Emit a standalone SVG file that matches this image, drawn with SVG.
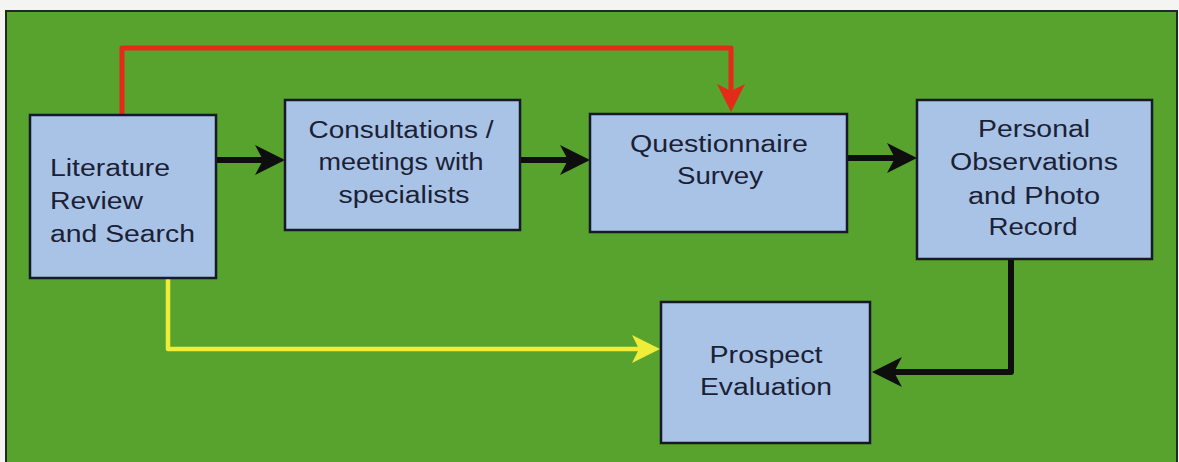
<svg xmlns="http://www.w3.org/2000/svg" width="1179" height="462" viewBox="0 0 1179 462">
  <style>
    .box { fill: #a9c3e6; stroke: #15192a; stroke-width: 2.5; }
    .lbl { font-family: "Liberation Sans", Arial, sans-serif; font-size: 23px; fill: #1b2135; }
    .mid { text-anchor: middle; }
    .blk { fill: none; stroke: #0e0e0e; stroke-width: 6; stroke-linejoin: round; }
    .red { fill: none; stroke: #e42a18; stroke-width: 5; stroke-linejoin: round; }
    .yel { fill: none; stroke: #eeee3a; stroke-width: 4.5; stroke-linejoin: round; }
  </style>
  <defs>
    <marker id="ahB" markerUnits="userSpaceOnUse" markerWidth="32" markerHeight="32" refX="8" refY="15" orient="auto" viewBox="0 0 32 32">
      <path d="M0,0 L30,15 L0,30 L8,15 Z" fill="#0e0e0e"/>
    </marker>
    <marker id="ahR" markerUnits="userSpaceOnUse" markerWidth="30" markerHeight="30" refX="7" refY="14" orient="auto" viewBox="0 0 30 30">
      <path d="M0,0 L28,14 L0,28 L7,14 Z" fill="#e42a18"/>
    </marker>
    <marker id="ahY" markerUnits="userSpaceOnUse" markerWidth="30" markerHeight="30" refX="7" refY="14" orient="auto" viewBox="0 0 30 30">
      <path d="M0,0 L28,14 L0,28 L7,14 Z" fill="#eeee3a"/>
    </marker>
  </defs>

  <rect x="0" y="0" width="1179" height="462" fill="#f4f4f2"/>
  <rect x="6" y="11" width="1171" height="455" fill="#57a32d" stroke="#1d2a25" stroke-width="2"/>

  <g id="connectors">
    <path class="red" d="M122,115 V48 H731 V91" marker-end="url(#ahR)"/>
    <path class="yel" d="M168,278 V349 H639" marker-end="url(#ahY)"/>
    <line class="blk" x1="216" y1="160" x2="263" y2="160" marker-end="url(#ahB)"/>
    <line class="blk" x1="520" y1="160" x2="568" y2="160" marker-end="url(#ahB)"/>
    <line class="blk" x1="847" y1="158" x2="895" y2="158" marker-end="url(#ahB)"/>
    <path class="blk" d="M1011,259 V372 H894" marker-end="url(#ahB)"/>
  </g>

  <g id="literature">
    <rect class="box" x="30" y="115" width="186" height="163"/>
    <text class="lbl" x="50" y="176" textLength="120" lengthAdjust="spacingAndGlyphs">Literature</text>
    <text class="lbl" x="50" y="209" textLength="93" lengthAdjust="spacingAndGlyphs">Review</text>
    <text class="lbl" x="50" y="242" textLength="145" lengthAdjust="spacingAndGlyphs">and Search</text>
  </g>

  <g id="consultations">
    <rect class="box" x="285" y="100" width="235" height="130"/>
    <text class="lbl mid" x="401" y="138" textLength="185" lengthAdjust="spacingAndGlyphs">Consultations /</text>
    <text class="lbl mid" x="401" y="170" textLength="165" lengthAdjust="spacingAndGlyphs">meetings with</text>
    <text class="lbl mid" x="404" y="203" textLength="131" lengthAdjust="spacingAndGlyphs">specialists</text>
  </g>

  <g id="questionnaire">
    <rect class="box" x="590" y="114" width="257" height="118"/>
    <text class="lbl mid" x="719" y="152" textLength="178" lengthAdjust="spacingAndGlyphs">Questionnaire</text>
    <text class="lbl mid" x="720" y="184" textLength="86" lengthAdjust="spacingAndGlyphs">Survey</text>
  </g>

  <g id="personal">
    <rect class="box" x="917" y="100" width="235" height="159"/>
    <text class="lbl mid" x="1034" y="137" textLength="112" lengthAdjust="spacingAndGlyphs">Personal</text>
    <text class="lbl mid" x="1034" y="170" textLength="168" lengthAdjust="spacingAndGlyphs">Observations</text>
    <text class="lbl mid" x="1034" y="204" textLength="132" lengthAdjust="spacingAndGlyphs">and Photo</text>
    <text class="lbl mid" x="1033" y="235" textLength="89" lengthAdjust="spacingAndGlyphs">Record</text>
  </g>

  <g id="prospect">
    <rect class="box" x="661" y="302" width="209" height="141"/>
    <text class="lbl mid" x="766" y="363" textLength="113" lengthAdjust="spacingAndGlyphs">Prospect</text>
    <text class="lbl mid" x="766" y="395" textLength="132" lengthAdjust="spacingAndGlyphs">Evaluation</text>
  </g>
</svg>
